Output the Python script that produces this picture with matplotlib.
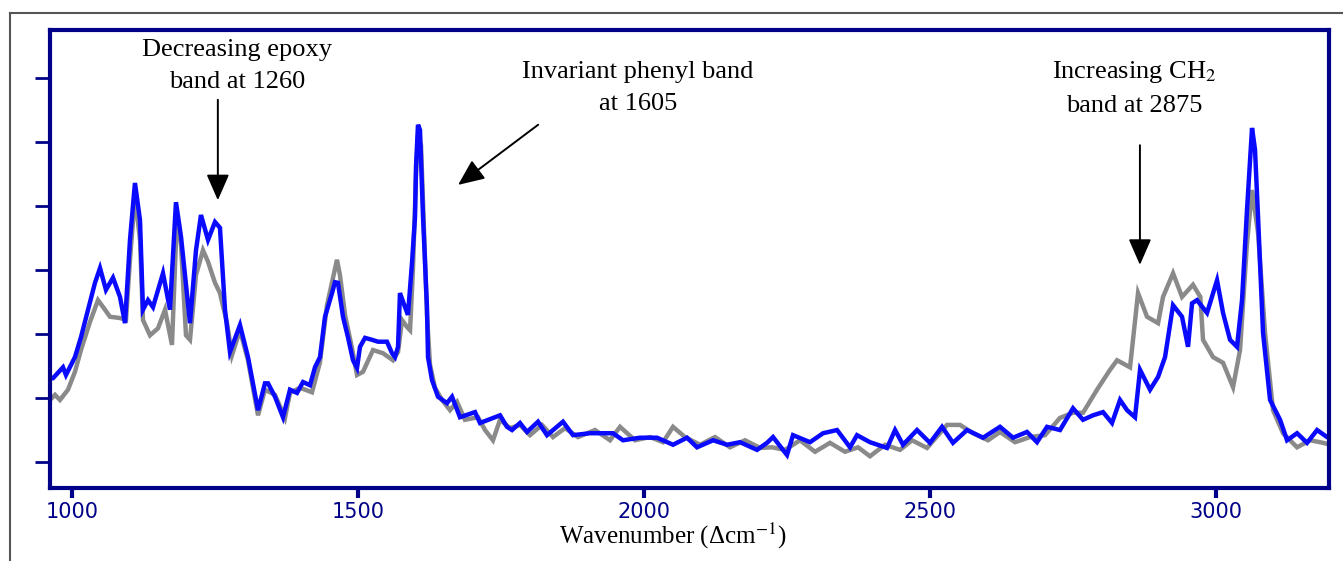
import numpy as np
import matplotlib
matplotlib.use("Agg")
import matplotlib.pyplot as plt
from matplotlib.lines import Line2D

plt.rcParams["mathtext.fontset"] = "stix"

# blue spectrum (wavenumber, intensity)
blue_wn = [961.5, 966.8, 984.3, 989.5, 1005.2, 1015.7, 1028.0, 1040.2, 1049.0, 1059.4,
           1071.7, 1083.9, 1092.7, 1101.4, 1110.1, 1118.9, 1124.1, 1132.9, 1141.6, 1159.1,
           1171.3, 1181.8, 1190.6, 1206.3, 1216.8, 1225.5, 1237.8, 1250.0, 1258.7, 1267.5,
           1276.2, 1293.7, 1307.7, 1325.2, 1337.4, 1342.7, 1354.9, 1368.9, 1381.1, 1393.4,
           1403.9, 1416.1, 1424.8, 1433.6, 1442.3, 1454.6, 1459.8, 1465.0, 1473.8, 1482.5,
           1491.3, 1498.3, 1503.5, 1512.3, 1524.5, 1535.0, 1550.7, 1559.5, 1564.7, 1570.0,
           1573.4, 1582.2, 1587.4, 1594.4, 1599.7, 1601.4, 1604.9, 1608.4, 1613.7, 1617.2,
           1620.6, 1622.4, 1629.4, 1639.9, 1655.6, 1664.4, 1678.3, 1704.6, 1713.3, 1748.3,
           1760.5, 1769.3, 1783.2, 1795.5, 1814.7, 1830.4, 1858.4, 1875.9, 1905.6, 1945.8,
           1963.3, 1993.0, 2022.8, 2050.7, 2075.2, 2092.7, 2120.7, 2145.2, 2167.9, 2197.6,
           2215.1, 2225.6, 2250.0, 2260.5, 2290.3, 2313.0, 2337.5, 2360.2, 2372.4, 2395.1,
           2424.9, 2438.9, 2452.8, 2477.3, 2500.0, 2521.0, 2540.2, 2564.7, 2592.7, 2622.4,
           2645.2, 2669.6, 2687.1, 2704.6, 2727.3, 2750.0, 2767.5, 2785.0, 2802.5, 2818.2,
           2832.2, 2844.5, 2858.4, 2867.2, 2884.7, 2898.7, 2910.9, 2924.9, 2940.6, 2951.1,
           2958.1, 2966.8, 2984.3, 3001.8, 3012.3, 3024.5, 3036.7, 3045.5, 3054.2, 3063.0,
           3068.2, 3073.5, 3082.2, 3094.5, 3112.0, 3124.2, 3141.7, 3159.2, 3176.7, 3194.1,
           3199.4]
blue_int = [1.31, 1.31, 1.48, 1.36, 1.64, 1.95, 2.38, 2.80, 3.03, 2.69,
            2.88, 2.58, 2.17, 3.47, 4.36, 3.78, 2.38, 2.53, 2.42, 2.95,
            2.38, 4.06, 3.52, 2.17, 3.31, 3.86, 3.47, 3.75, 3.66, 2.38,
            1.72, 2.14, 1.64, 0.81, 1.23, 1.23, 1.02, 0.70, 1.13, 1.08,
            1.25, 1.20, 1.48, 1.64, 2.27, 2.64, 2.81, 2.80, 2.27, 1.95,
            1.59, 1.47, 1.80, 1.94, 1.91, 1.88, 1.88, 1.70, 1.64, 1.80,
            2.64, 2.42, 2.30, 3.11, 3.83, 4.61, 5.27, 5.19, 3.83, 3.11,
            2.42, 1.64, 1.28, 1.02, 0.92, 1.02, 0.70, 0.78, 0.61, 0.73,
            0.55, 0.50, 0.61, 0.47, 0.63, 0.42, 0.63, 0.42, 0.45, 0.45,
            0.34, 0.38, 0.38, 0.27, 0.38, 0.23, 0.34, 0.27, 0.31, 0.19,
            0.30, 0.39, 0.11, 0.42, 0.31, 0.45, 0.50, 0.23, 0.42, 0.31,
            0.22, 0.50, 0.27, 0.50, 0.30, 0.55, 0.30, 0.50, 0.38, 0.55,
            0.38, 0.47, 0.31, 0.55, 0.50, 0.84, 0.66, 0.73, 0.78, 0.61,
            0.97, 0.81, 0.70, 1.44, 1.13, 1.33, 1.64, 2.45, 2.27, 1.80,
            2.48, 2.53, 2.33, 2.84, 2.33, 1.91, 1.80, 2.53, 3.94, 5.22,
            4.88, 3.83, 2.02, 0.97, 0.66, 0.34, 0.45, 0.30, 0.50, 0.39,
            0.39]

# grey spectrum (wavenumber, intensity)
grey_wn = [961.5, 970.3, 979.0, 993.0, 1005.2, 1015.7, 1031.5, 1045.5, 1057.7, 1066.4,
           1083.9, 1094.4, 1101.4, 1110.1, 1118.9, 1124.1, 1136.4, 1150.4, 1162.6, 1174.8,
           1183.6, 1190.6, 1199.3, 1206.3, 1216.8, 1229.0, 1237.8, 1250.0, 1258.7, 1271.0,
           1279.7, 1293.7, 1307.7, 1325.2, 1337.4, 1354.9, 1372.4, 1381.1, 1398.6, 1419.6,
           1433.6, 1445.8, 1463.3, 1468.5, 1477.3, 1489.5, 1498.3, 1508.8, 1526.2, 1543.7,
           1561.2, 1570.0, 1577.0, 1585.7, 1591.0, 1596.2, 1601.4, 1604.9, 1610.2, 1615.4,
           1620.6, 1625.9, 1634.6, 1646.9, 1660.9, 1673.1, 1687.1, 1709.8, 1722.1, 1736.0,
           1748.3, 1765.8, 1783.2, 1800.7, 1821.7, 1840.9, 1861.9, 1884.6, 1914.4, 1940.6,
           1958.1, 1984.3, 2010.5, 2033.3, 2050.7, 2071.7, 2097.9, 2124.2, 2150.4, 2176.6,
           2202.8, 2223.8, 2246.5, 2272.8, 2299.0, 2325.2, 2351.4, 2374.2, 2395.1, 2421.4,
           2447.6, 2468.6, 2494.8, 2529.8, 2552.5, 2575.2, 2601.4, 2622.4, 2648.7, 2674.9,
           2701.1, 2727.3, 2750.0, 2767.5, 2792.0, 2814.7, 2827.0, 2849.7, 2863.7, 2879.4,
           2898.7, 2907.4, 2924.9, 2940.6, 2959.8, 2972.6, 2977.3, 2994.8, 3012.3, 3029.8,
           3042.0, 3054.2, 3063.0, 3073.5, 3085.7, 3099.7, 3117.2, 3141.7, 3164.5, 3187.2,
           3199.4]
grey_int = [0.97, 1.05, 0.97, 1.13, 1.41, 1.75, 2.19, 2.53, 2.38, 2.27,
            2.25, 2.22, 3.16, 4.17, 3.47, 2.22, 1.98, 2.09, 2.38, 1.83,
            3.86, 3.39, 1.98, 1.91, 2.92, 3.31, 3.13, 2.80, 2.64, 2.17,
            1.67, 2.06, 1.59, 0.73, 1.13, 1.05, 0.69, 1.08, 1.16, 1.09,
            1.56, 2.45, 3.16, 2.92, 2.30, 1.78, 1.36, 1.41, 1.75, 1.70,
            1.59, 1.72, 2.22, 2.11, 2.06, 3.03, 4.48, 5.11, 4.95, 3.63,
            2.30, 1.52, 1.16, 0.97, 0.81, 0.94, 0.66, 0.70, 0.50, 0.34,
            0.66, 0.53, 0.58, 0.42, 0.58, 0.39, 0.53, 0.39, 0.50, 0.34,
            0.55, 0.34, 0.39, 0.31, 0.55, 0.39, 0.27, 0.39, 0.23, 0.34,
            0.22, 0.23, 0.19, 0.34, 0.16, 0.30, 0.16, 0.23, 0.09, 0.27,
            0.19, 0.34, 0.22, 0.58, 0.58, 0.45, 0.34, 0.47, 0.31, 0.39,
            0.42, 0.69, 0.77, 0.77, 1.13, 1.44, 1.59, 1.48, 2.64, 2.27,
            2.17, 2.58, 2.95, 2.58, 2.77, 2.58, 1.91, 1.64, 1.55, 1.17,
            1.75, 3.42, 4.25, 3.58, 2.02, 0.81, 0.45, 0.23, 0.34, 0.30,
            0.27]

xticks = [1000, 1500, 2000, 2500, 3000]
yticks = [0, 1, 2, 3, 4, 5, 6]

navy = "#000088"
serif = "Liberation Serif"

fig = plt.figure(figsize=(13.43, 5.61), dpi=100)
ax = fig.add_axes([0.0372, 0.1301, 0.9524, 0.8164])

ax.plot(grey_wn, grey_int, color="#8a8a8a", lw=3.2, solid_joinstyle="miter")
ax.plot(blue_wn, blue_int, color="#0a0aff", lw=3.2, solid_joinstyle="miter")

ax.set_xlim(961.5, 3197.6)
ax.set_ylim(-0.406, 6.75)
ax.set_xticks(xticks)
ax.set_yticks(yticks)
ax.set_yticklabels([])
for s in ax.spines.values():
    s.set_color(navy)
    s.set_linewidth(3)
ax.tick_params(axis="y", length=11, width=2, color=navy, direction="out")
ax.tick_params(axis="x", length=7, width=3, color=navy, direction="out",
               labelcolor=navy, labelsize=15, pad=3)

fig.text(0.5011, 1 - 536 / 561, "Wavenumber (Δcm$^{-1}$)", family=serif, fontsize=18,
         ha="center", va="center")

fig.text(0.1765, 1 - 66 / 561, "Decreasing epoxy\nband at 1260", family=serif, fontsize=19,
         ha="center", va="center", linespacing=1.58)
fig.text(0.4751, 1 - 88 / 561, "Invariant phenyl band\nat 1605", family=serif, fontsize=19,
         ha="center", va="center", linespacing=1.58)
fig.text(0.8444, 1 - 88 / 561, "Increasing CH$_2$\nband at 2875", family=serif, fontsize=19,
         ha="center", va="center", linespacing=1.58)

arrow = dict(arrowstyle="-|>,head_length=0.8,head_width=0.35", mutation_scale=20,
             lw=1.4, color="black", shrinkA=0, shrinkB=0)
ax.annotate("", xy=(1255, 4.09), xytext=(1255, 5.66), arrowprops=arrow)
ax.annotate("", xy=(1675, 4.33), xytext=(1815, 5.27), arrowprops=arrow)
ax.annotate("", xy=(2867, 3.08), xytext=(2867, 4.95), arrowprops=arrow)

# outer frame (top and left edges only)
fig.add_artist(Line2D([10 / 1343, 1.0], [1 - 13 / 561, 1 - 13 / 561], color="#555555", lw=1.5))
fig.add_artist(Line2D([10 / 1343, 10 / 1343], [0.0, 1 - 13 / 561], color="#555555", lw=1.5))

fig.savefig("out.png", dpi=100)
